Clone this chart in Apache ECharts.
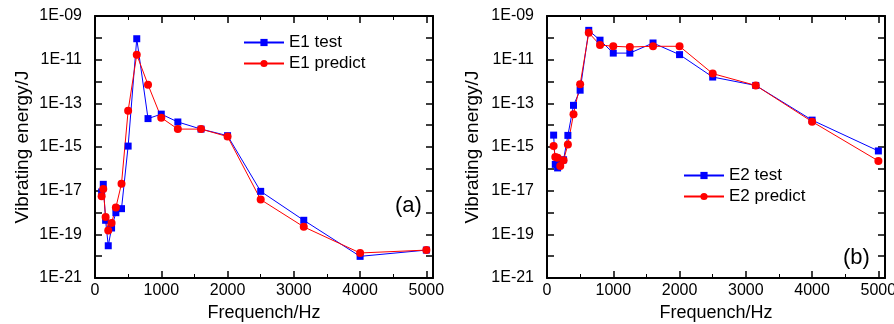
<!DOCTYPE html>
<html>
<head>
<meta charset="utf-8">
<script src="https://cdn.jsdelivr.net/npm/echarts@6/dist/echarts.min.js"></script>
<style>
  html, body { margin: 0; padding: 0; background: #fff; }
  #chart { width: 894px; height: 324px; }
</style>
</head>
<body>
<div id="chart"></div>
<script>
// one-third octave bands, Hz
const freqs = [100, 125, 160, 200, 250, 315, 400, 500, 630, 800, 1000, 1250, 1600, 2000, 2500, 3150, 4000, 5000];

// vibrating energy, J
const e1Test = [8.7e-18, 1.95e-17, 4.4e-19, 3.0e-20, 1.95e-19, 9.8e-19, 1.5e-18, 1.1e-15, 9.1e-11, 2.0e-14, 3.2e-14, 1.4e-14, 6.6e-15, 3.3e-15, 9.3e-18, 4.4e-19, 9.8e-21, 1.9e-20];
const e1Predict = [5.5e-18, 1.2e-17, 6.2e-19, 1.5e-19, 3.3e-19, 1.7e-18, 2.1e-17, 4.6e-14, 1.7e-11, 7.1e-13, 2.2e-14, 6.6e-15, 6.6e-15, 3.0e-15, 3.9e-18, 2.2e-19, 1.4e-20, 1.9e-20];
const e2Test = [3.5e-15, 1.6e-16, 1.1e-16, 1.9e-16, 2.6e-16, 3.4e-15, 8.1e-14, 4.0e-13, 2.2e-10, 7.8e-11, 2.0e-11, 2.0e-11, 5.8e-11, 1.7e-11, 1.6e-12, 6.6e-13, 1.7e-14, 6.6e-16];
const e2Predict = [1.1e-15, 3.5e-16, 3.2e-16, 1.35e-16, 2.5e-16, 1.3e-15, 3.2e-14, 7.4e-13, 1.7e-10, 4.7e-11, 4.1e-11, 3.8e-11, 4.1e-11, 4.1e-11, 2.3e-12, 6.6e-13, 1.45e-14, 2.3e-16];

const xTicks = [0, 1000, 2000, 3000, 4000, 5000];
const bottomLabel = '1E-21';
const panelTags = ['(a)', '(b)'];
const yName = 'Vibrating energy/J';

const FONT = "'Liberation Sans', Arial, sans-serif";
const BLUE = '#0000ff';
const RED = '#ff0000';

const pairs = (vals) => vals.map((v, i) => [freqs[i], v]);

// labels only on odd exponents: 1E-09, 1E-11 ...
const expLabel = (v) => {
  const e = Math.round(Math.log10(v));
  if (Math.abs(e) % 2 === 0 || e <= -21) return '';
  return '1E' + (e < 0 ? '-' : '+') + String(Math.abs(e)).padStart(2, '0');
};

const lineStyle = { show: true, onZero: false, lineStyle: { color: '#000', width: 2 } };
const tickStyle = { show: true, inside: true, length: 7, lineStyle: { color: '#000', width: 1.5 } };

function xAxes(grid) {
  const base = {
    type: 'value',
    gridIndex: grid,
    min: xTicks[0],
    max: 5100,
    interval: 1000,
    splitLine: { show: false },
    axisLine: lineStyle,
    axisTick: tickStyle,
    minorTick: { show: true, splitNumber: 2, length: 4, lineStyle: { color: '#000', width: 1 } }
  };
  return [
    Object.assign({}, base, {
      position: 'bottom',
      name: 'Frequench/Hz',
      nameLocation: 'middle',
      nameGap: 24,
      nameTextStyle: { fontFamily: FONT, fontSize: 18, color: '#000' },
      axisLabel: {
        margin: 5, fontFamily: FONT, fontSize: 16, color: '#000',
        formatter: (v) => (xTicks.includes(v) ? String(v) : '')
      }
    }),
    Object.assign({}, base, { position: 'top', axisLabel: { show: false } })
  ];
}

function yAxes(grid) {
  const base = {
    type: 'log',
    logBase: 10,
    gridIndex: grid,
    min: 1e-21,
    max: 1e-9,
    interval: 1,
    splitLine: { show: false },
    axisLine: lineStyle,
    axisTick: tickStyle
  };
  return [
    Object.assign({}, base, {
      position: 'left',
      axisLabel: {
        margin: 13, fontFamily: FONT, fontSize: 16, color: '#000',
        showMinLabel: false, showMaxLabel: true,
        formatter: expLabel
      }
    }),
    Object.assign({}, base, { position: 'right', axisLabel: { show: false } })
  ];
}

function series(name, vals, grid, shape, color) {
  return {
    name: name,
    type: 'line',
    xAxisIndex: grid * 2,
    yAxisIndex: grid * 2,
    data: pairs(vals),
    symbol: shape,
    symbolSize: shape === 'rect' ? 7 : 8,
    showSymbol: true,
    lineStyle: { color: color, width: 1 },
    itemStyle: { color: color, borderWidth: 0 },
    emphasis: { disabled: true },
    animation: false
  };
}

const chart = echarts.init(document.getElementById('chart'), null, { renderer: 'canvas' });

const legendBase = {
  orient: 'vertical',
  padding: 0,
  itemWidth: 40,
  itemHeight: 9,
  itemGap: 4,
  textStyle: { fontFamily: FONT, fontSize: 17, color: '#000' }
};

const gridBase = { top: 16, bottom: 324 - 278, show: false, containLabel: false, outerBoundsMode: 'none' };

const nameText = (x) => ({
  type: 'text', x: x, y: 147, rotation: Math.PI / 2,
  style: { text: yName, font: '19px ' + FONT, fill: '#000', align: 'center', verticalAlign: 'middle' }
});

// bottom decade label, right-aligned against the axis like the others
const minText = (x) => ({
  type: 'text', x: x, y: 278,
  style: { text: bottomLabel, font: '16px ' + FONT, fill: '#000', align: 'right', verticalAlign: 'middle' }
});

chart.setOption({
  animation: false,
  backgroundColor: '#fff',
  grid: [
    Object.assign({}, gridBase, { left: 95, width: 433 - 95 }),
    Object.assign({}, gridBase, { left: 547, width: 885 - 547 })
  ],
  xAxis: xAxes(0).concat(xAxes(1)),
  yAxis: yAxes(0).concat(yAxes(1)),
  legend: [
    Object.assign({}, legendBase, { left: 243, top: 34, data: ['E1 test', 'E1 predict'] }),
    Object.assign({}, legendBase, { left: 683, top: 167, data: ['E2 test', 'E2 predict'] })
  ],
  graphic: [
    nameText(23),
    nameText(473),
    minText(82),
    minText(534),
    { type: 'text', left: 395, top: 195, style: { text: panelTags[0], font: '22px ' + FONT, fill: '#000' } },
    { type: 'text', left: 843, top: 247, style: { text: panelTags[1], font: '22px ' + FONT, fill: '#000' } }
  ],
  series: [
    series('E1 test', e1Test, 0, 'rect', BLUE),
    series('E1 predict', e1Predict, 0, 'circle', RED),
    series('E2 test', e2Test, 1, 'rect', BLUE),
    series('E2 predict', e2Predict, 1, 'circle', RED)
  ]
});
</script>
</body>
</html>
